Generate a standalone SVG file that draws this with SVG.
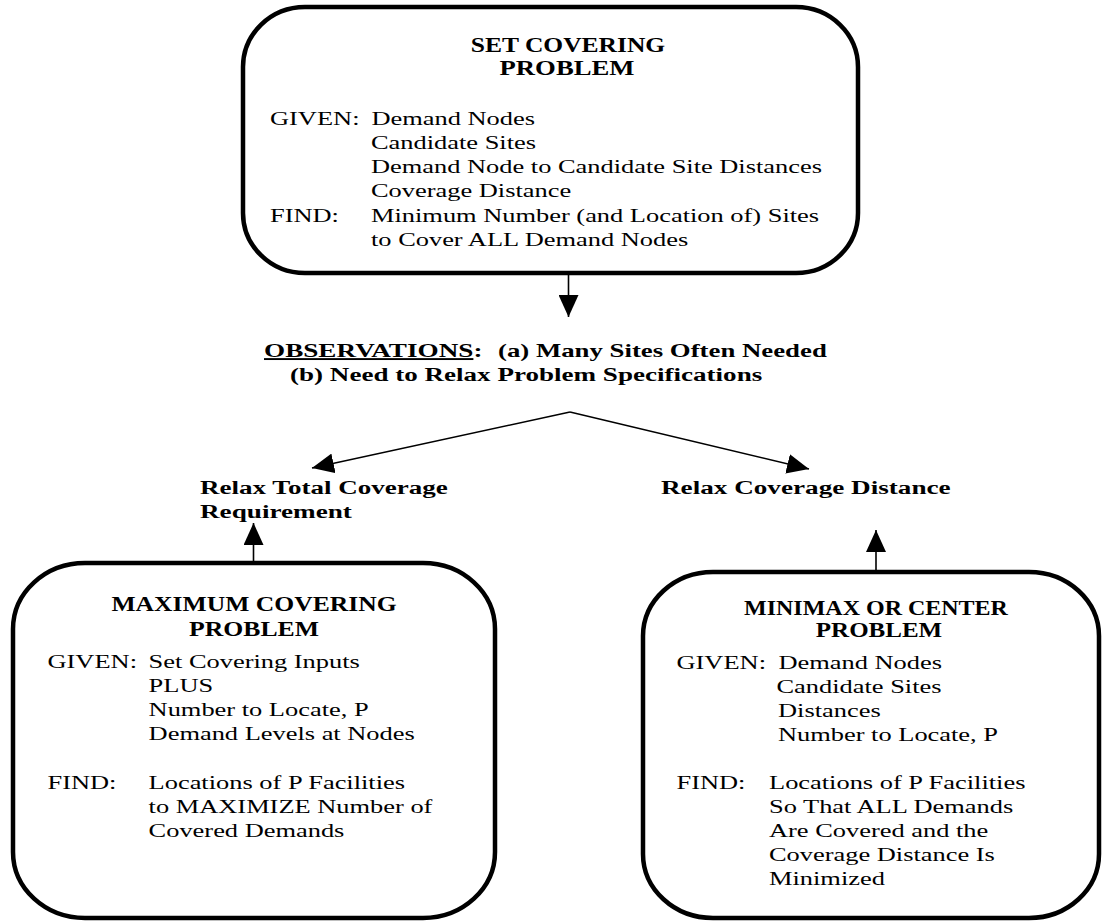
<svg xmlns="http://www.w3.org/2000/svg" width="1102" height="921" viewBox="0 0 1102 921">
<style>
  text { font-family: "Liberation Serif", "Times New Roman", serif; fill: #000; }
  .b { font-size: 19px; }
  .t { font-size: 20px; font-weight: bold; text-anchor: middle; }
  .l { font-size: 19px; font-weight: bold; }
  .box { fill: #fff; stroke: #000; stroke-width: 4.5; }
  .conn { stroke: #000; stroke-width: 1.6; fill: none; }
</style>
<defs>
  <marker id="ah" markerUnits="userSpaceOnUse" markerWidth="22" markerHeight="20" refX="22" refY="10" orient="auto" viewBox="0 0 22 20">
    <path d="M0,0 L22,10 L0,20 z" fill="#000"/>
  </marker>
</defs>
<rect width="1102" height="921" fill="#fff"/>

<g id="connectors">
  <line class="conn" x1="568.5" y1="273" x2="568.5" y2="317" marker-end="url(#ah)"/>
  <line class="conn" x1="570" y1="412" x2="312" y2="468" marker-end="url(#ah)"/>
  <line class="conn" x1="570" y1="412" x2="809" y2="469" marker-end="url(#ah)"/>
  <line class="conn" x1="253.5" y1="563" x2="253.5" y2="523" marker-end="url(#ah)"/>
  <line class="conn" x1="876" y1="572" x2="876" y2="530" marker-end="url(#ah)"/>
</g>

<g id="set-covering">
  <rect class="box" x="243" y="7" width="615" height="266" rx="62" ry="60"/>
  <text class="t" transform="translate(568 51.5) scale(1.276 1)">SET COVERING</text>
  <text class="t" transform="translate(567 75.2) scale(1.335 1)">PROBLEM</text>
  <text class="b" transform="translate(270 124.5) scale(1.39 1)">GIVEN:</text>
  <text class="b" transform="translate(371.5 124.5) scale(1.39 1)">Demand Nodes</text>
  <text class="b" transform="translate(371 148.8) scale(1.39 1)">Candidate Sites</text>
  <text class="b" transform="translate(371 173) scale(1.39 1)">Demand Node to Candidate Site Distances</text>
  <text class="b" transform="translate(371 197.3) scale(1.39 1)">Coverage Distance</text>
  <text class="b" transform="translate(270 221.6) scale(1.39 1)">FIND:</text>
  <text class="b" transform="translate(371 221.6) scale(1.39 1)">Minimum Number (and Location of) Sites</text>
  <text class="b" transform="translate(371 245.9) scale(1.39 1)">to Cover ALL Demand Nodes</text>
</g>

<g id="observations">
  <text class="l" transform="translate(264 356.5) scale(1.43 1)"><tspan text-decoration="underline">OBSERVATIONS</tspan>:</text>
  <text class="l" transform="translate(498 356.5) scale(1.41 1)">(a) Many Sites Often Needed</text>
  <text class="l" transform="translate(290 380.5) scale(1.425 1)">(b) Need to Relax Problem Specifications</text>
</g>

<g id="relax-total">
  <text class="l" transform="translate(200 494) scale(1.424 1)">Relax Total Coverage</text>
  <text class="l" transform="translate(200 518) scale(1.43 1)">Requirement</text>
</g>

<g id="relax-distance">
  <text class="l" transform="translate(661 494) scale(1.43 1)">Relax Coverage Distance</text>
</g>

<g id="maximum-covering">
  <rect class="box" x="13" y="563" width="482" height="355" rx="72" ry="66"/>
  <text class="t" transform="translate(254 610.7) scale(1.28 1)">MAXIMUM COVERING</text>
  <text class="t" transform="translate(254 635.7) scale(1.286 1)">PROBLEM</text>
  <text class="b" transform="translate(47.5 668.3) scale(1.39 1)">GIVEN:</text>
  <text class="b" transform="translate(148.6 668.3) scale(1.39 1)">Set Covering Inputs</text>
  <text class="b" transform="translate(148.6 692.4) scale(1.39 1)">PLUS</text>
  <text class="b" transform="translate(148.6 716.3) scale(1.39 1)">Number to Locate, P</text>
  <text class="b" transform="translate(148.6 740.2) scale(1.39 1)">Demand Levels at Nodes</text>
  <text class="b" transform="translate(47.5 789) scale(1.39 1)">FIND:</text>
  <text class="b" transform="translate(148.6 789) scale(1.39 1)">Locations of P Facilities</text>
  <text class="b" transform="translate(148.6 812.7) scale(1.39 1)">to MAXIMIZE Number of</text>
  <text class="b" transform="translate(148.6 836.5) scale(1.39 1)">Covered Demands</text>
</g>

<g id="minimax-center">
  <rect class="box" x="643" y="572" width="456" height="346" rx="70" ry="64"/>
  <text class="t" font-size="19" transform="translate(876 615) scale(1.2 1)">MINIMAX OR CENTER</text>
  <text class="t" font-size="19" transform="translate(879 636.7) scale(1.25 1)">PROBLEM</text>
  <text class="b" transform="translate(676.5 669.3) scale(1.39 1)">GIVEN:</text>
  <text class="b" transform="translate(778.5 669.3) scale(1.39 1)">Demand Nodes</text>
  <text class="b" transform="translate(776.5 693.3) scale(1.39 1)">Candidate Sites</text>
  <text class="b" transform="translate(778 717.3) scale(1.39 1)">Distances</text>
  <text class="b" transform="translate(778 741.2) scale(1.39 1)">Number to Locate, P</text>
  <text class="b" transform="translate(676.5 789.3) scale(1.39 1)">FIND:</text>
  <text class="b" transform="translate(769 789.3) scale(1.39 1)">Locations of P Facilities</text>
  <text class="b" transform="translate(769 813.2) scale(1.39 1)">So That ALL Demands</text>
  <text class="b" transform="translate(769 837) scale(1.39 1)">Are Covered and the</text>
  <text class="b" transform="translate(769 861) scale(1.39 1)">Coverage Distance Is</text>
  <text class="b" transform="translate(769 884.8) scale(1.39 1)">Minimized</text>
</g>
</svg>
